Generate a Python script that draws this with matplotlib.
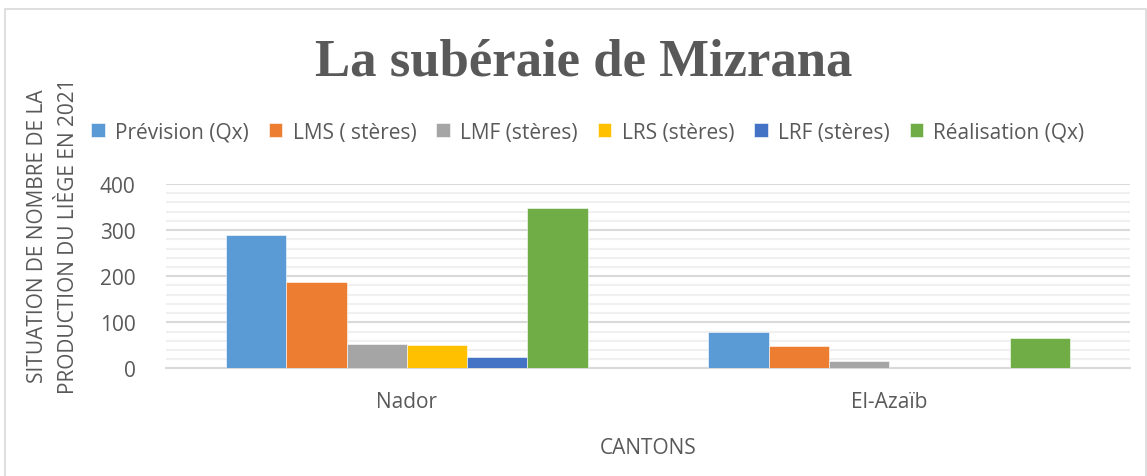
import matplotlib
matplotlib.use("Agg")
import matplotlib.pyplot as plt
import numpy as np
from matplotlib.ticker import MultipleLocator
from matplotlib.patches import Rectangle

# Production data per canton
cantons = ["Nador", "El-Azaïb"]
series_names = ["Prévision (Qx)", "LMS ( stères)", "LMF (stères)",
                "LRS (stères)", "LRF (stères)", "Réalisation (Qx)"]
prevision = [290, 80]
lms = [187, 49]
lmf = [53, 16]
lrs = [50, 0]
lrf = [25, 0]
realisation = [347, 67]
colors = ["#5B9BD5", "#ED7D31", "#A5A5A5", "#FFC000", "#4472C4", "#70AD47"]

series = [prevision, lms, lmf, lrs, lrf, realisation]

text_color = "#595959"
plt.rcParams["font.family"] = ["Open Sans", "DejaVu Sans"]

fig = plt.figure(figsize=(11.47, 4.77), dpi=100)
ax = fig.add_axes([0.1447, 0.2254, 0.9852 - 0.1447, 0.6122 - 0.2254])

# Chart border
fig.patches.append(Rectangle((5 / 1147, -0.01), 1141 / 1147, 1 - 10 / 477 + 0.01,
                             transform=fig.transFigure, fill=False,
                             edgecolor="#d9d9d9", linewidth=1.2))

x = np.arange(len(cantons))
n = len(series)
bw = 0.75 / n
for i, (vals, name, c) in enumerate(zip(series, series_names, colors)):
    ax.bar(x - 0.375 + bw * (i + 0.5), vals, width=bw, color=c, label=name,
           edgecolor="white", linewidth=0.4, zorder=3)

ax.set_xlim(-0.5, 1.5)
ax.set_ylim(0, 400)
ax.yaxis.set_major_locator(MultipleLocator(100))
ax.yaxis.set_minor_locator(MultipleLocator(20))
ax.grid(axis="y", which="major", color="#d9d9d9", linewidth=1.5, zorder=0)
ax.grid(axis="y", which="minor", color="#f0f0f0", linewidth=1.5, zorder=0)
for s in ["top", "right", "left"]:
    ax.spines[s].set_visible(False)
ax.spines["bottom"].set_color("#d9d9d9")
ax.spines["bottom"].set_linewidth(1.5)
ax.tick_params(axis="both", which="both", length=0, labelsize=15, colors=text_color)
ax.tick_params(axis="y", pad=22)
ax.tick_params(axis="x", pad=16)
ax.set_xticks(x)
ax.set_xticklabels(cantons)

ax.set_xlabel("CANTONS", fontsize=15, color=text_color, labelpad=18)
fig.text(53 / 1147, 1 - 236 / 477, "SITUATION DE NOMBRE DE LA\nPRODUCTION DU LIÈGE EN 2021",
         rotation=90, ha="center", va="center", fontsize=15, color=text_color,
         linespacing=1.6)

fig.text(584 / 1147, 1 - 63 / 477, "La subéraie de Mizrana",
         ha="center", va="center", fontsize=38, fontweight="bold",
         family="Liberation Serif", color=text_color)

fig.legend(loc="center", bbox_to_anchor=(588 / 1147, 1 - 133 / 477), ncol=6,
           frameon=False, fontsize=15, handlelength=0.65, handleheight=0.65,
           handletextpad=0.5, columnspacing=0.95, labelcolor=text_color)

fig.savefig("out.png", dpi=100)
